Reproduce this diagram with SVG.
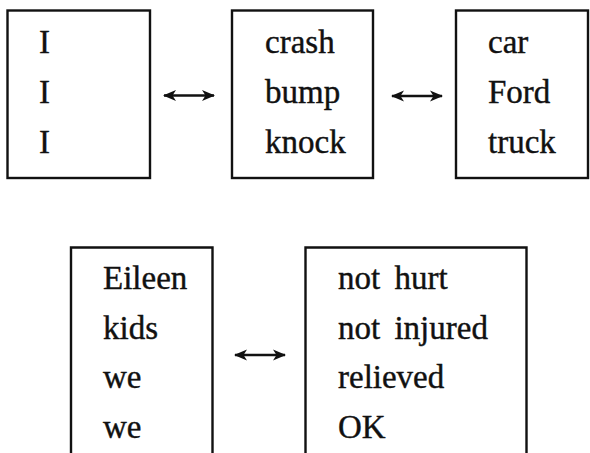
<svg xmlns="http://www.w3.org/2000/svg" width="590" height="453" viewBox="0 0 590 453">
<defs>
<style>
.box{fill:none;stroke:#111;stroke-width:2.4}
.t{font-family:"Liberation Serif","Times New Roman",serif;font-size:33px;fill:#111;stroke:#111;stroke-width:0.4;word-spacing:6px}
.c{stroke:#111;stroke-width:2.4;fill:none}
</style>
<marker id="ah" viewBox="0 0 13 12" refX="12" refY="6" markerWidth="13" markerHeight="12" markerUnits="userSpaceOnUse" orient="auto-start-reverse">
<path d="M0,0.5 L13,6 L0,11.5 L3.5,6 Z" fill="#111"/>
</marker>
</defs>
<rect width="590" height="453" fill="#fff"/>
<g id="node-I">
<rect class="box" x="7.5" y="10.5" width="142.5" height="167.5"/>
<text class="t" x="39" y="53">I</text>
<text class="t" x="39" y="102.5">I</text>
<text class="t" x="39" y="152.5">I</text>
</g>
<g id="node-crash">
<rect class="box" x="232" y="10.5" width="141" height="167.5"/>
<text class="t" x="265" y="53">crash</text>
<text class="t" x="265" y="102.5">bump</text>
<text class="t" x="265" y="152.5">knock</text>
</g>
<g id="node-car">
<rect class="box" x="456" y="10.5" width="132" height="167.5"/>
<text class="t" x="488" y="53">car</text>
<text class="t" x="488" y="102.5">Ford</text>
<text class="t" x="488" y="152.5">truck</text>
</g>
<g id="node-eileen">
<path class="box" d="M71,456 V247.5 H212.5 V456"/>
<text class="t" x="103" y="289">Eileen</text>
<text class="t" x="103" y="338.5">kids</text>
<text class="t" x="103" y="388">we</text>
<text class="t" x="103" y="437.5">we</text>
</g>
<g id="node-nothurt">
<path class="box" d="M305.5,456 V247.5 H526.5 V456"/>
<text class="t" x="338" y="289">not hurt</text>
<text class="t" x="338" y="338.5">not injured</text>
<text class="t" x="338" y="388">relieved</text>
<text class="t" x="338" y="437.5">OK</text>
</g>
<g id="connectors">
<line class="c" x1="164" y1="95.5" x2="214" y2="95.5" marker-start="url(#ah)" marker-end="url(#ah)"/>
<line class="c" x1="392" y1="96" x2="442" y2="96" marker-start="url(#ah)" marker-end="url(#ah)"/>
<line class="c" x1="235" y1="355" x2="285" y2="355" marker-start="url(#ah)" marker-end="url(#ah)"/>
</g>
</svg>
